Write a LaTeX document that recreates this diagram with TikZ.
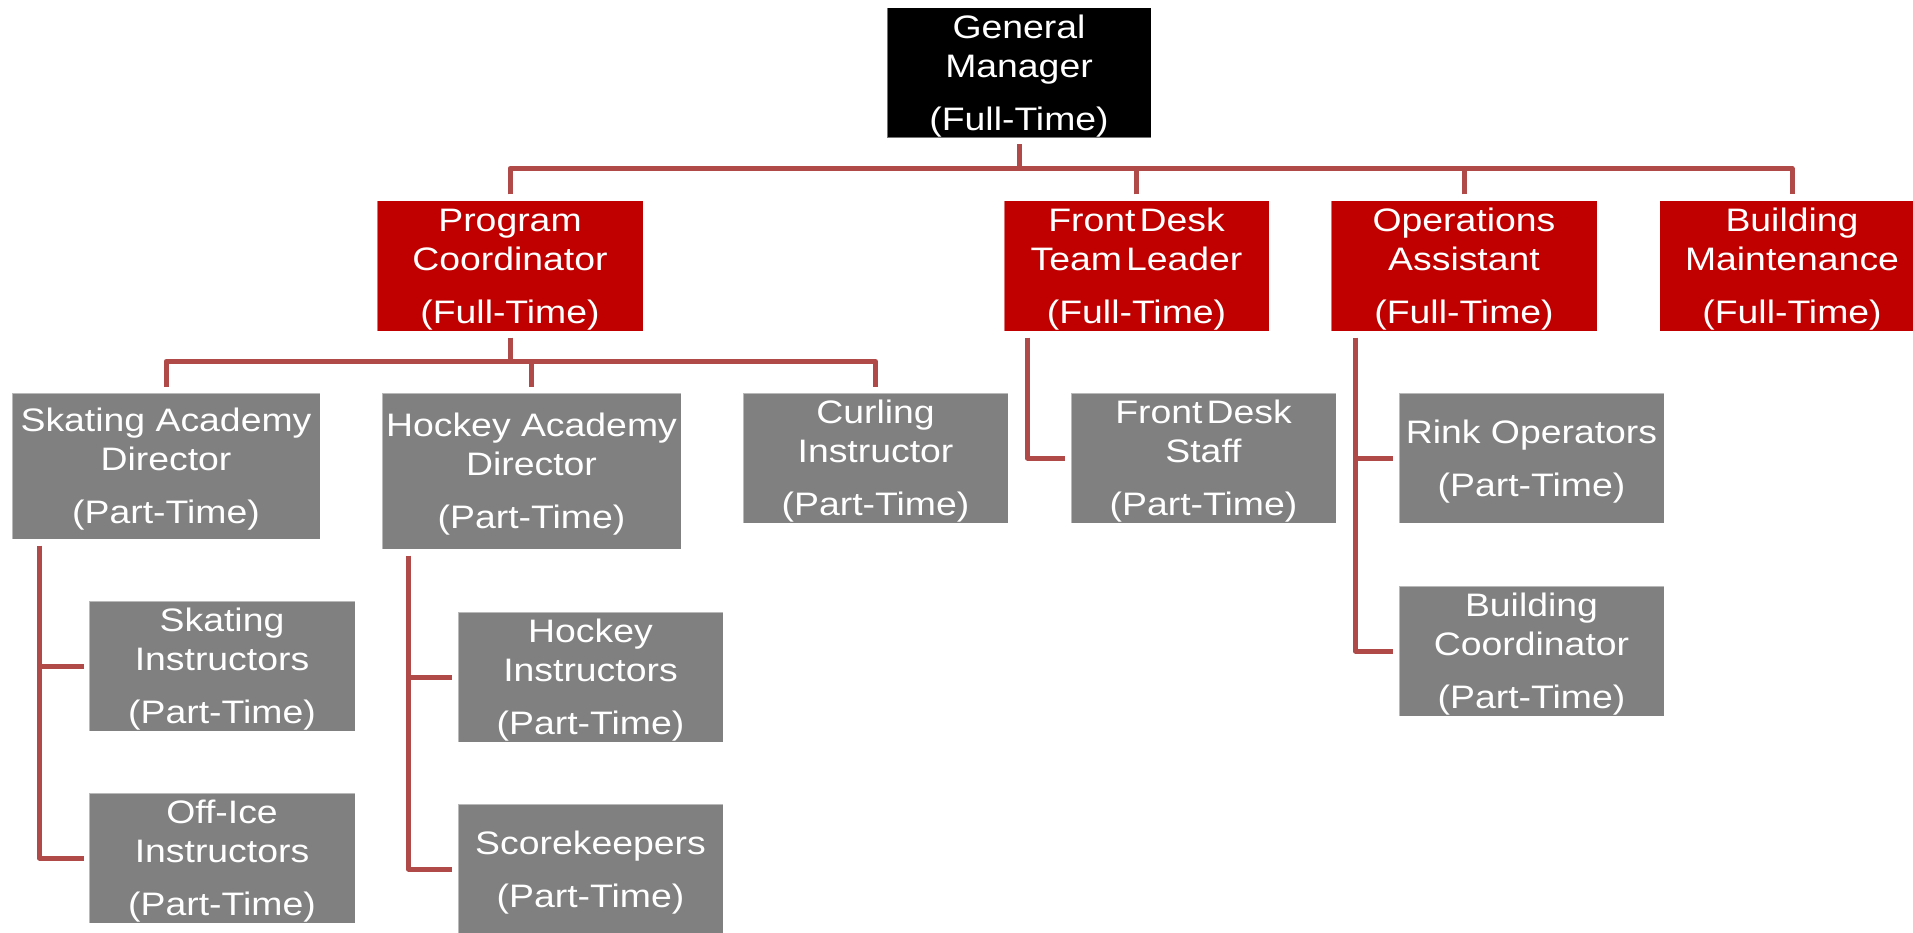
\documentclass[tikz,border=0pt]{standalone}
\usepackage{fontspec}
\newfontfamily\boxfont[FakeStretch=1.15]{Liberation Sans}
\definecolor{redbox}{RGB}{192,0,0}
\definecolor{graybox}{RGB}{128,128,128}
\definecolor{linkcol}{RGB}{176,74,72}
\newcommand\fl{\rule{0pt}{29.8pt}}
\newcommand\tsp{\hspace{4pt}}
\begin{document}
\begin{tikzpicture}[x=1pt,y=-1pt,
  box/.style={minimum height=130pt, inner sep=0pt, text=white, align=center,
    font=\boxfont\fontsize{32.5}{39}\selectfont, draw=white, draw opacity=0.45, line width=1pt},
  topbox/.style={box, fill=black},
  redb/.style={box, fill=redbox},
  grayb/.style={box, fill=graybox},
  link/.style={draw=linkcol, line width=5pt, line join=round}]
\clip (0,0) rectangle (1913,933);
\fill[white] (0,0) rectangle (1913,933);
% level 0
\node[topbox, minimum width=264pt] (gm) at (1019,73) {\fl General\\Manager\\[14pt](Full-Time)};
% level 1
\node[redb, minimum width=266pt] (pc) at (510,266) {\fl Program\\Coordinator\\[14pt](Full-Time)};
\node[redb, minimum width=265pt] (fd) at (1136.5,266) {\fl Front\tsp Desk\\Team\tsp Leader\\[14pt](Full-Time)};
\node[redb, minimum width=266pt] (ops) at (1464,266) {\fl Operations\\Assistant\\[14pt](Full-Time)};
\node[redb, minimum width=265pt] (bm) at (1792,266) {\fl Building\\Maintenance\\[14pt](Full-Time)};
% level 2
\node[grayb, minimum width=308pt, minimum height=146pt] (sad) at (166,466) {\fl Skating Academy\\Director\\[14pt](Part-Time)};
\node[grayb, minimum width=299pt, minimum height=156pt] (had) at (531.5,471) {\fl Hockey Academy\\Director\\[14pt](Part-Time)};
\node[grayb, minimum width=265pt] (cur) at (875.5,458) {\fl Curling\\Instructor\\[14pt](Part-Time)};
\node[grayb, minimum width=265pt] (fds) at (1203.5,458) {\fl Front\tsp Desk\\Staff\\[14pt](Part-Time)};
\node[grayb, minimum width=265pt] (rink) at (1531.5,458) {\fl Rink Operators\\[14pt](Part-Time)};
\node[grayb, minimum width=265pt] (bc) at (1531.5,651) {\fl Building\\Coordinator\\[14pt](Part-Time)};
% level 3
\node[grayb, minimum width=266pt] (si) at (222,666) {\fl Skating\\Instructors\\[14pt](Part-Time)};
\node[grayb, minimum width=266pt] (oi) at (222,858) {\fl Off-Ice\\Instructors\\[14pt](Part-Time)};
\node[grayb, minimum width=265pt] (hi) at (590.5,677) {\fl Hockey\\Instructors\\[14pt](Part-Time)};
\node[grayb, minimum width=265pt] (sk) at (590.5,869) {\fl Scorekeepers\\[14pt](Part-Time)};
% connectors level 0 -> 1
\draw[link] ([yshift=-6pt]gm.south) -- ++(0,25);
\draw[link] ([yshift=6pt]pc.north) -- ++(0,-26) -| ([yshift=6pt]bm.north);
\draw[link] ([yshift=6pt]fd.north) -- ++(0,-26);
\draw[link] ([yshift=6pt]ops.north) -- ++(0,-26);
% connectors level 1 -> 2
\draw[link] ([yshift=-6pt]pc.south) -- ++(0,25);
\draw[link] ([yshift=6pt]sad.north) -- ++(0,-25) -| ([yshift=6pt]cur.north);
\draw[link] ([yshift=6pt]had.north) -- ++(0,-25);
% side connectors
\coordinate (sadv) at ([xshift=28pt,yshift=-6pt]sad.south west);
\draw[link] (sadv) |- ([xshift=-5pt]oi.west);
\draw[link] ([xshift=-5pt]si.west) -- (si.west -| sadv);
\coordinate (hadv) at ([xshift=27pt,yshift=-6pt]had.south west);
\draw[link] (hadv) |- ([xshift=-6pt]sk.west);
\draw[link] ([xshift=-6pt]hi.west) -- (hi.west -| hadv);
\coordinate (fdv) at ([xshift=24pt,yshift=-6pt]fd.south west);
\draw[link] (fdv) |- ([xshift=-6pt]fds.west);
\coordinate (opsv) at ([xshift=25pt,yshift=-6pt]ops.south west);
\draw[link] (opsv) |- ([xshift=-6pt]bc.west);
\draw[link] ([xshift=-6pt]rink.west) -- (rink.west -| opsv);
\end{tikzpicture}
\end{document}
